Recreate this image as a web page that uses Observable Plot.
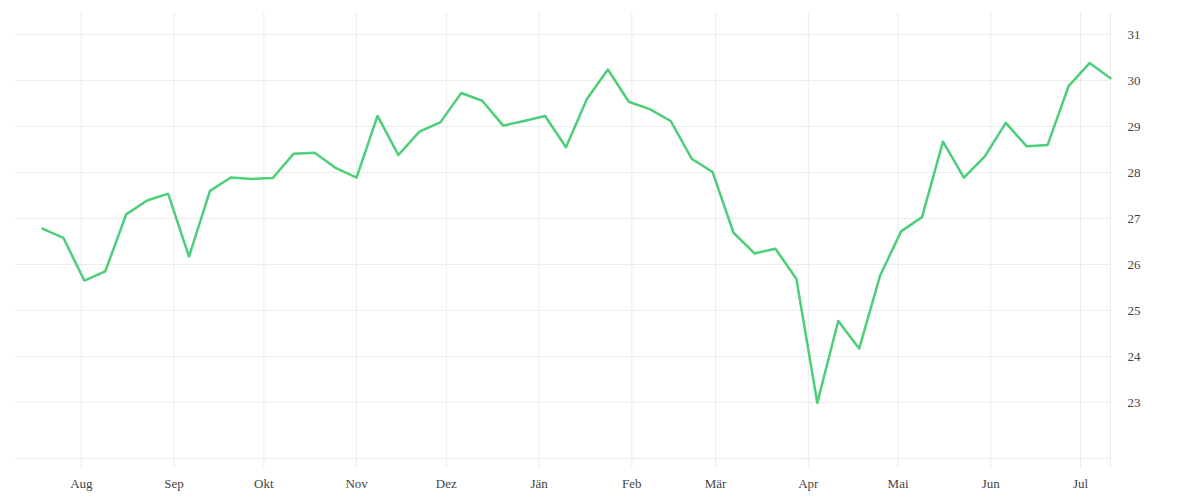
<!DOCTYPE html>
<html>
<head>
<meta charset="utf-8">
<script src="https://cdn.jsdelivr.net/npm/d3@7"></script>
<script src="https://cdn.jsdelivr.net/npm/@observablehq/plot@0.6"></script>
<style>
  html, body { margin: 0; padding: 0; background: #fff; }
  #chart svg { display: block; }
</style>
</head>
<body>
<div id="chart"></div>
<script>
// Weekly observations (Fridays), Jul 19 2024 – Jul 11 2025
const startDate = "2024-07-19";
const values = [
  26.78, 26.58, 25.65, 25.85, 27.09, 27.39, 27.54, 26.17, 27.60, 27.89,
  27.86, 27.88, 28.41, 28.43, 28.10, 27.89, 29.23, 28.38, 28.89, 29.09,
  29.73, 29.56, 29.02, 29.12, 29.23, 28.55, 29.60, 30.24, 29.54, 29.38,
  29.12, 28.30, 28.01, 26.69, 26.24, 26.34, 25.69, 22.99, 24.77, 24.17,
  25.76, 26.72, 27.03, 28.67, 27.89, 28.35, 29.08, 28.57, 28.60, 29.88,
  30.38, 30.05
];
const monthTicks = ["2024-08-01","2024-09-01","2024-10-01","2024-11-01","2024-12-01",
  "2025-01-01","2025-02-01","2025-03-01","2025-04-01","2025-05-01","2025-06-01","2025-07-01"];
const monthLabels = ["Aug","Sep","Okt","Nov","Dez","Jän","Feb","Mär","Apr","Mai","Jun","Jul"];
const yTicks = [23, 24, 25, 26, 27, 28, 29, 30, 31];
const xDomain = ["2024-07-10", "2025-07-11"];
const yDomain = [21.78, 31.48];

const start = d3.utcParse("%Y-%m-%d")(startDate);
const data = values.map((v, i) => ({date: d3.utcDay.offset(start, 7 * i), value: v}));
const parse = d3.utcParse("%Y-%m-%d");
const xTickDates = monthTicks.map(parse);
const xEnd = parse(xDomain[1]);
const labelMap = new Map(xTickDates.map((d, i) => [+d, monthLabels[i]]));
const allXTicks = [...xTickDates, xEnd];

const gridColor = "#ececec";
const textColor = "#444";

const chart = Plot.plot({
  width: 1200,
  height: 500,
  marginLeft: 15,
  marginRight: 90,
  marginTop: 12,
  marginBottom: 42,
  style: {fontFamily: "'Liberation Serif', serif", fontSize: "13px", background: "#fff"},
  x: {type: "utc", domain: xDomain.map(parse)},
  y: {domain: yDomain},
  marks: [
    Plot.gridY(yTicks, {stroke: gridColor, strokeOpacity: 1}),
    Plot.ruleY([yDomain[0]], {stroke: gridColor, strokeWidth: 1}),
    Plot.gridX(allXTicks, {stroke: gridColor, strokeOpacity: 1}),
    Plot.axisX(allXTicks, {
      tickSize: 10, tickPadding: 10, stroke: gridColor, fill: textColor,
      tickFormat: d => labelMap.get(+d) ?? "", label: null, fontSize: 13
    }),
    Plot.axisY(yTicks, {
      anchor: "right", tickSize: 0, tickPadding: 17, fill: textColor,
      textAnchor: "start", label: null, fontSize: 13
    }),
    Plot.line(data, {x: "date", y: "value", stroke: "#4ccf78", strokeWidth: 2.5, curve: "linear"})
  ]
});
document.getElementById("chart").append(chart);
</script>
</body>
</html>
